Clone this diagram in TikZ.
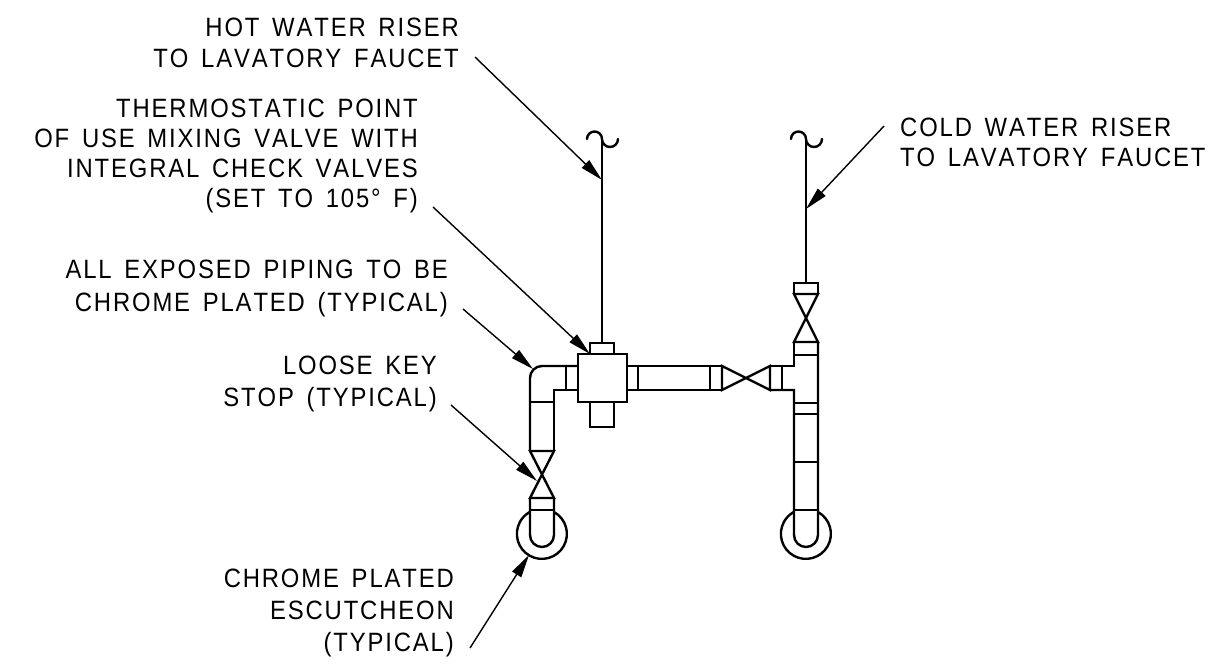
\documentclass[tikz,border=0pt]{standalone}
\usepackage{fontspec}
\setmainfont[LetterSpace=7,FakeStretch=0.9,WordSpace=1.5,Kerning=Off]{Liberation Sans}
\usetikzlibrary{arrows.meta}
\tikzset{
  pipe/.style={line width=2.4pt,line join=miter,line cap=round},
  leader/.style={line width=1.4pt,-{Triangle[length=23pt,width=10.5pt]}},
  pitch/.style={font=\fontsize{26.5pt}{#1pt}\selectfont},
  lbl/.style={pitch=#1,align=right,anchor=north east,inner sep=0pt,text=black},
  lbll/.style={pitch=#1,align=left,anchor=north west,inner sep=0pt,text=black}
}
\begin{document}
\begin{tikzpicture}[x=1pt,y=-1pt]
\useasboundingbox[fill=white] (0,0) rectangle (1209,670);
% labels
\node[lbl=31] (hot) at (459,18) {HOT WATER RISER\\TO LAVATORY FAUCET};
\node[lbl=30] (mix) at (418,99) {THERMOSTATIC POINT\\OF USE MIXING VALVE WITH\\INTEGRAL CHECK VALVES\\(SET TO 105° F)};
\node[lbl=33] (exp) at (448,260) {ALL EXPOSED PIPING TO BE\\CHROME PLATED (TYPICAL)};
\node[lbl=32] (key) at (437,356) {LOOSE KEY\\STOP (TYPICAL)};
\node[lbl=32] (esc) at (454,569) {CHROME PLATED\\ESCUTCHEON\\(TYPICAL)};
\node[lbll=30] (cold) at (900,118) {COLD WATER RISER\\TO LAVATORY FAUCET};
% leader ends
\coordinate (a1s) at (475,57); \coordinate (a1e) at (602,180);
\coordinate (a2s) at (433,207); \coordinate (a2e) at (590,354);
\coordinate (a3s) at (463,309); \coordinate (a3e) at (533,369);
\coordinate (a4s) at (451,405); \coordinate (a4e) at (537,481);
\coordinate (a5s) at (470,648); \coordinate (a5e) at (529,555);
\coordinate (a6s) at (884,126); \coordinate (a6e) at (806,209);
% left riser
\draw[pipe] (602,139) -- (602,343);
\draw[pipe] (587,139) arc[start angle=180,end angle=360,radius=7.5] arc[start angle=180,end angle=0,radius=8];
% right riser
\draw[pipe] (806,139) -- (806,283);
\draw[pipe] (791,139) arc[start angle=180,end angle=360,radius=7.5] arc[start angle=180,end angle=0,radius=8];
% mixing valve
\draw[pipe] (590,354) -- (590,343) -- (614,343) -- (614,354);
\draw[pipe] (578,354) rectangle (627,402);
\draw[pipe] (590,402) -- (590,427) -- (614,427) -- (614,402);
% elbow and left drop
\draw[pipe] (578,366) -- (542,366) arc[start angle=270,end angle=180,radius=12] -- (530,451);
\draw[pipe] (578,390) -- (554,390) -- (554,451);
\draw[pipe] (566,366) -- (566,390);
\draw[pipe] (530,402) -- (554,402);
\draw[pipe] (530,451) -- (554,451) -- (530,498) -- (554,498) -- cycle;
\draw[pipe] (530,498) -- (530,535) arc[start angle=180,end angle=0,radius=12] -- (554,498);
\draw[pipe] (530,510) -- (554,510);
\draw[pipe] (554,512) arc[start angle=-61,end angle=241,radius=25];
% horizontal run
\draw[pipe] (627,366) -- (722,366);
\draw[pipe] (627,390) -- (722,390);
\draw[pipe] (638,366) -- (638,390);
\draw[pipe] (710,366) -- (710,390);
\draw[pipe] (722,366) -- (722,390) -- (770,366) -- (770,390) -- cycle;
\draw[pipe] (770,366) -- (794,366) -- (794,342);
\draw[pipe] (770,390) -- (794,390) -- (794,535) arc[start angle=180,end angle=0,radius=12] -- (818,342);
\draw[pipe] (782,366) -- (782,390);
% right valve
\draw[pipe] (794,294) -- (794,283) -- (818,283) -- (818,294);
\draw[pipe] (794,294) -- (818,294) -- (794,342) -- (818,342) -- cycle;
\draw[pipe] (794,355) -- (818,355);
\draw[pipe] (794,403) -- (818,403);
\draw[pipe] (794,414) -- (818,414);
\draw[pipe] (794,462) -- (818,462);
\draw[pipe] (794,510) -- (818,510);
\draw[pipe] (818,512) arc[start angle=-61,end angle=241,radius=25];
% leaders
\draw[leader] (a1s) -- (a1e);
\draw[leader] (a2s) -- (a2e);
\draw[leader] (a3s) -- (a3e);
\draw[leader] (a4s) -- (a4e);
\draw[leader] (a5s) -- (a5e);
\draw[leader] (a6s) -- (a6e);
\end{tikzpicture}
\end{document}
